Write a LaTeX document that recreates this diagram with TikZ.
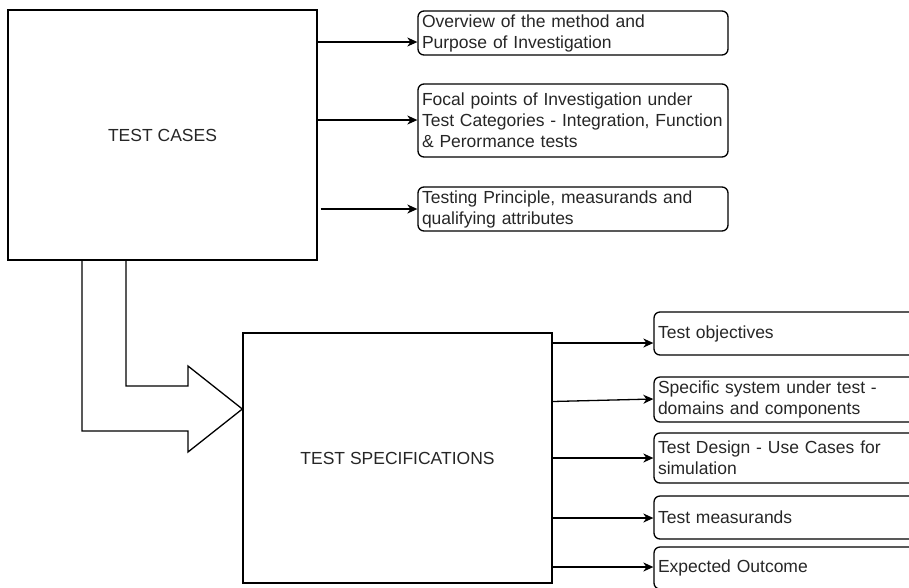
\documentclass[tikz,border=0pt]{standalone}
\usepackage{fontspec}
\setmainfont{Liberation Sans}
\usetikzlibrary{arrows.meta}

\begin{document}
\begin{tikzpicture}[x=1pt,y=-1pt,
  every node/.style={font=\fontsize{17.5}{21}\selectfont, text=black!85},
  bigbox/.style={draw, line width=1.3pt, inner sep=0pt, minimum width=309pt, minimum height=250pt},
  itembox/.style={draw, line width=1.3pt, rounded corners=6pt, minimum width=310pt,
    text width=302pt, align=left, inner xsep=4pt, inner ysep=0pt, anchor=center},
  arr/.style={line width=1.3pt, -{Stealth[length=10pt,width=9pt,inset=3pt]}}
]
\useasboundingbox (0,0) rectangle (909,587);
\clip (0,0) rectangle (909,587);

% main blocks
\node[bigbox] (tc) at (162.5,135) {TEST CASES};
\node[bigbox] (ts) at (397.5,458) {TEST SPECIFICATIONS};

% items of the test cases
\node[itembox, minimum height=44pt] (o1) at (573,33) {Overview of the method and\\Purpose of Investigation};
\node[itembox, minimum height=73pt] (o2) at (573,120.5) {Focal points of Investigation under\\Test Categories - Integration, Function\\\& Perormance tests};
\node[itembox, minimum height=44pt] (o3) at (573,209) {Testing Principle, measurands and\\qualifying attributes};

% items of the test specifications
\node[itembox, minimum height=43pt] (s1) at (809,333.5) {Test objectives};
\node[itembox, minimum height=45pt] (s2) at (809,399.5) {Specific system under test -\\domains and components};
\node[itembox, minimum height=50pt] (s3) at (809,458) {Test Design - Use Cases for\\simulation};
\node[itembox, minimum height=43pt] (s4) at (809,517.5) {Test measurands};
\node[itembox, minimum height=42pt] (s5) at (809,568) {Expected Outcome};

% connectors
\draw[arr] (tc.east |- 0,42) -- (o1.west |- 0,42);
\draw[arr] (tc.east |- 0,120) -- (o2.west |- 0,120);
\draw[arr] ([xshift=3pt]tc.east |- 0,209) -- (o3.west |- 0,209);

\draw[arr] (ts.east |- 0,343) -- (s1.west |- 0,343);
\draw[arr] (ts.east |- 0,401.5) -- (s2.west |- 0,399);
\draw[arr] (ts.east |- 0,458) -- (s3.west |- 0,458);
\draw[arr] (ts.east |- 0,518) -- (s4.west |- 0,518);
\draw[arr] (ts.east |- 0,567) -- (s5.west |- 0,567);

% bent block arrow from test cases to test specifications
\draw[line width=1.3pt, line join=miter]
  (tc.south -| 82,0) -- (82,431) -- (188,431) -- (188,452) -- (ts.west |- 0,409)
  -- (188,366) -- (188,386) -- (126,386) -- (tc.south -| 126,0);
\end{tikzpicture}
\end{document}
